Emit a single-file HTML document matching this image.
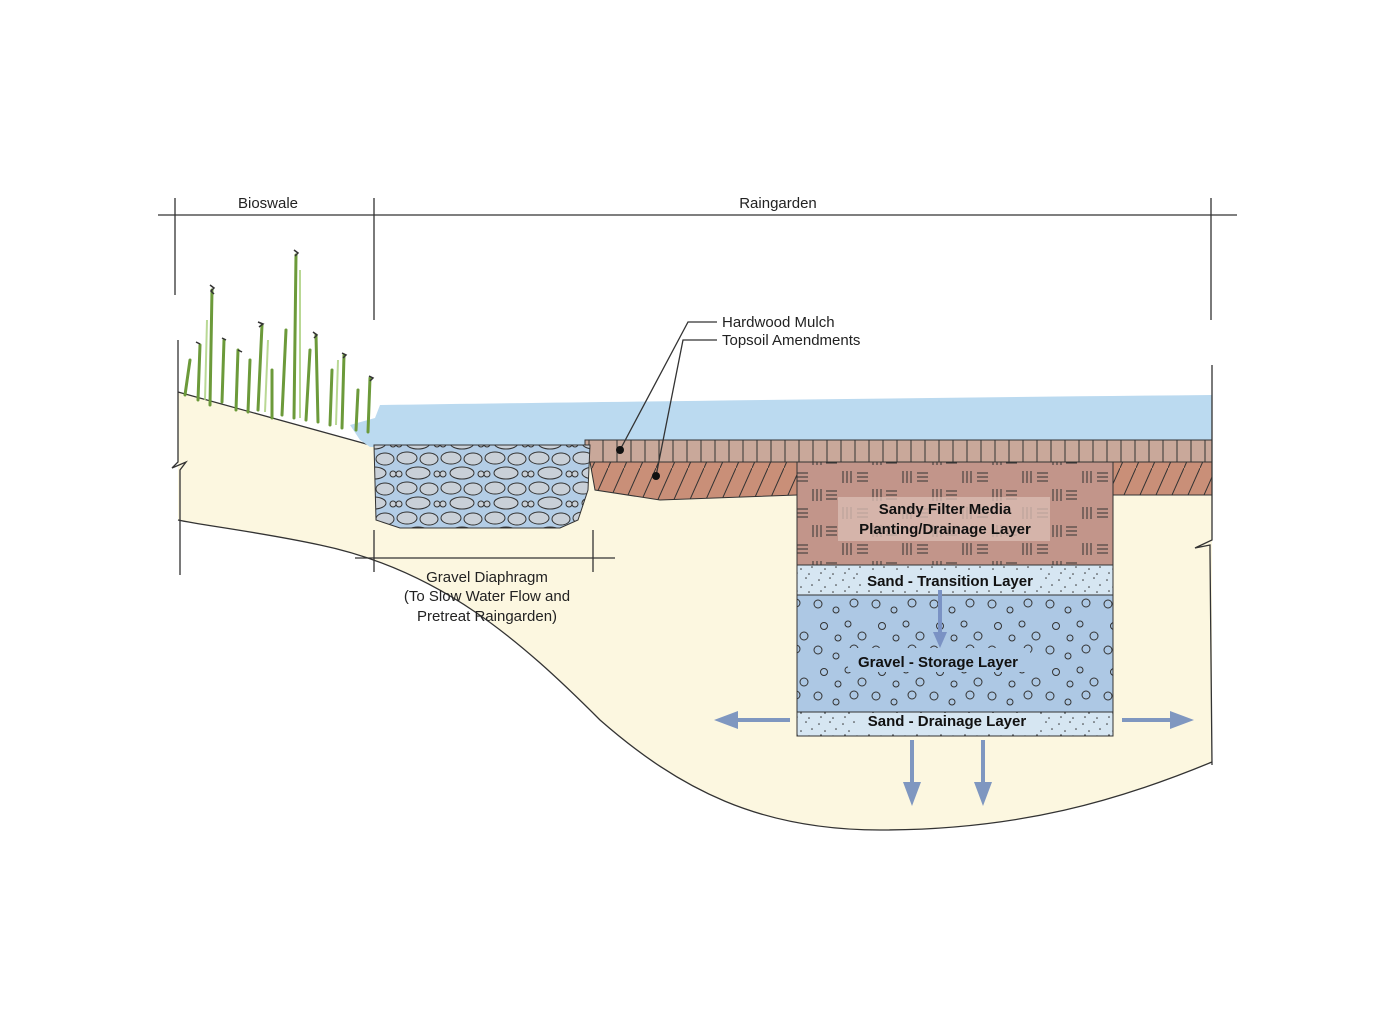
<!DOCTYPE html>
<html><head><meta charset="utf-8"><style>
html,body{margin:0;padding:0;background:#fff;}
svg{display:block;font-family:"Liberation Sans",sans-serif;}
</style></head><body>
<svg width="1399" height="1017" viewBox="0 0 1399 1017" xmlns="http://www.w3.org/2000/svg">
<defs>
<pattern id="mulch" width="14" height="22" patternUnits="userSpaceOnUse"><rect width="14" height="22" fill="#c9a89a"/><line x1="1" y1="0" x2="1" y2="22" stroke="#333" stroke-width="1"/></pattern>
<pattern id="topsoil" width="16" height="36" patternUnits="userSpaceOnUse"><rect width="16" height="36" fill="#c98f78"/><line x1="0" y1="36" x2="16" y2="0" stroke="#333" stroke-width="1"/></pattern>
<pattern id="filter" width="60" height="36" patternUnits="userSpaceOnUse"><rect width="60" height="36" fill="#c2958a"/>
<g stroke="#333" stroke-width="1"><line x1="3" y1="3" x2="3" y2="15"/><line x1="7" y1="3" x2="7" y2="15"/><line x1="11" y1="3" x2="11" y2="15"/>
<line x1="17" y1="5" x2="28" y2="5"/><line x1="17" y1="9" x2="28" y2="9"/><line x1="17" y1="13" x2="28" y2="13"/>
<line x1="33" y1="21" x2="33" y2="33"/><line x1="37" y1="21" x2="37" y2="33"/><line x1="41" y1="21" x2="41" y2="33"/>
<line x1="46" y1="23" x2="57" y2="23"/><line x1="46" y1="27" x2="57" y2="27"/><line x1="46" y1="31" x2="57" y2="31"/></g></pattern>
<pattern id="sand" width="24" height="18" patternUnits="userSpaceOnUse"><rect width="24" height="18" fill="#d6e6f2"/><g fill="#333"><circle cx="3" cy="4" r=".8"/><circle cx="14" cy="2" r=".8"/><circle cx="9" cy="11" r=".8"/><circle cx="20" cy="9" r=".8"/><circle cx="5" cy="15" r=".8"/><circle cx="17" cy="16" r=".8"/></g></pattern>
<pattern id="gravel" width="58" height="46" patternUnits="userSpaceOnUse"><rect width="58" height="46" fill="#adc8e4"/><g fill="none" stroke="#333" stroke-width="1"><circle cx="6" cy="6" r="4"/><circle cx="24" cy="12" r="3"/><circle cx="42" cy="5" r="4"/><circle cx="12" cy="28" r="3.5"/><circle cx="36" cy="26" r="3"/><circle cx="50" cy="38" r="4"/><circle cx="26" cy="40" r="3"/></g></pattern>
<pattern id="diaph" width="44" height="30" patternUnits="userSpaceOnUse"><rect width="44" height="30" fill="#b3cde6"/><g fill="#c9d0d8" stroke="#333" stroke-width="1"><ellipse cx="11" cy="8" rx="10" ry="6"/><ellipse cx="33" cy="9" rx="9" ry="6"/><ellipse cx="22" cy="23" rx="12" ry="6"/><circle cx="3" cy="24" r="3"/><circle cx="41" cy="24" r="3"/></g></pattern>
</defs>

<!-- ground -->
<path d="M178,392 L370,445 L1212,462 L1212,762 C1120,800 1020,830 880,830 C760,830 680,790 600,720 C520,640 440,570 320,545 C260,532 200,525 178,520 Z" fill="#fcf7e0"/>
<path d="M178,520 C200,525 260,532 320,545 C440,570 520,640 600,720 C680,790 760,830 880,830 C1020,830 1120,800 1212,762" fill="none" stroke="#333" stroke-width="1.3"/>
<path d="M178,392 L370,445" fill="none" stroke="#333" stroke-width="1.3"/>

<!-- water -->
<path d="M350,425 L375,418 L380,405 C600,402 900,398 1212,395 L1212,442 L585,448 L370,447 L360,440 Z" fill="#bbdaf0"/>

<!-- mulch & topsoil -->
<rect x="585" y="440" width="627" height="22" fill="url(#mulch)" stroke="#333" stroke-width="1"/>
<path d="M590,462 L1212,462 L1212,495 L1113,495 L797,495 L660,500 L595,490 Z" fill="url(#topsoil)" stroke="#333" stroke-width="1"/>

<!-- gravel diaphragm -->
<path d="M374,445 L590,445 L588,490 L578,520 L560,528 L400,528 L376,520 Z" fill="url(#diaph)" stroke="#333" stroke-width="1"/>

<!-- filter column -->
<rect x="797" y="462" width="316" height="103" fill="url(#filter)" stroke="#333"/>
<rect x="838" y="497" width="212" height="44" fill="#d9bcb2" opacity="0.8"/>
<rect x="797" y="565" width="316" height="30" fill="url(#sand)" stroke="#333"/>
<rect x="862" y="570" width="176" height="20" fill="#d6e6f2"/>
<rect x="797" y="595" width="316" height="117" fill="url(#gravel)" stroke="#333"/>
<rect x="848" y="648" width="182" height="24" fill="#adc8e4"/>
<rect x="797" y="712" width="316" height="24" fill="url(#sand)" stroke="#333"/>
<rect x="855" y="713" width="185" height="20" fill="#d6e6f2"/>
<line x1="940" y1="590" x2="940" y2="635" stroke="#7a92c4" stroke-width="4"/>
<polygon points="933,632 947,632 940,648" fill="#7a92c4"/>

<g font-weight="bold" font-size="15" fill="#111" text-anchor="middle">
<text x="945" y="514">Sandy Filter Media</text>
<text x="945" y="534">Planting/Drainage Layer</text>
<text x="950" y="586">Sand - Transition Layer</text>
<text x="938" y="667">Gravel - Storage Layer</text>
<text x="947" y="726">Sand - Drainage Layer</text>
</g>

<!-- outflow arrows -->
<g fill="#7f97c0" stroke="#7f97c0">
<line x1="790" y1="720" x2="735" y2="720" stroke-width="4"/><polygon points="714,720 738,711 738,729" stroke="none"/>
<line x1="1122" y1="720" x2="1175" y2="720" stroke-width="4"/><polygon points="1194,720 1170,711 1170,729" stroke="none"/>
<line x1="912" y1="740" x2="912" y2="785" stroke-width="4"/><polygon points="912,806 903,782 921,782" stroke="none"/>
<line x1="983" y1="740" x2="983" y2="785" stroke-width="4"/><polygon points="983,806 974,782 992,782" stroke="none"/>
</g>

<!-- edges -->
<g stroke="#333" stroke-width="1.3" fill="none">
<path d="M178,340 L178,462 L172,468 L186,462 L180,470 L180,575"/>
<path d="M1212,365 L1212,540 L1195,548 L1210,545 L1210,552 L1212,765"/>
<line x1="158" y1="215" x2="1237" y2="215"/>
<line x1="175" y1="198" x2="175" y2="295"/>
<line x1="374" y1="198" x2="374" y2="320"/>
<line x1="1211" y1="198" x2="1211" y2="320"/>
<line x1="355" y1="558" x2="615" y2="558"/>
<line x1="374" y1="530" x2="374" y2="572"/>
<line x1="593" y1="530" x2="593" y2="572"/>
<polyline points="717,322 688,322 620,450"/>
<polyline points="717,340 683,340 656,476"/>
</g>
<circle cx="620" cy="450" r="4" fill="#111"/>
<circle cx="656" cy="476" r="4" fill="#111"/>

<!-- grass -->
<g stroke="#6c9a3a" stroke-width="3" fill="none" stroke-linecap="round">
<path d="M185,395 L190,360"/><path d="M198,400 L200,345"/><path d="M210,405 L212,290"/><path d="M222,402 L224,340"/>
<path d="M236,410 L238,350"/><path d="M248,412 L250,360"/><path d="M258,410 L262,325"/><path d="M272,418 L272,370"/>
<path d="M282,415 L286,330"/><path d="M294,418 L296,255"/><path d="M306,420 L310,350"/><path d="M318,422 L316,335"/>
<path d="M330,425 L332,370"/><path d="M342,428 L344,355"/><path d="M356,430 L358,390"/><path d="M368,432 L370,378"/>
</g>
<g stroke="#a8cf7a" stroke-width="2" fill="none" opacity="0.8">
<path d="M205,400 L207,320"/><path d="M265,412 L268,340"/><path d="M300,418 L300,270"/><path d="M336,425 L338,360"/>
</g>
<g stroke="#333" stroke-width="1.5" fill="none">
<path d="M210,285 l4,3 l-3,3 l3,3"/><path d="M294,250 l4,3 l-3,3"/><path d="M258,322 l5,2 l-4,3"/><path d="M313,332 l4,3 l-3,3"/>
<path d="M342,353 l4,2 l-3,3"/><path d="M369,376 l4,2 l-3,3"/><path d="M222,338 l4,2"/><path d="M238,350 l4,2"/><path d="M196,342 l4,2"/>
</g>

<!-- labels -->
<g font-size="15" fill="#222">
<text x="268" y="208" text-anchor="middle">Bioswale</text>
<text x="778" y="208" text-anchor="middle">Raingarden</text>
<text x="722" y="327">Hardwood Mulch</text>
<text x="722" y="345">Topsoil Amendments</text>
<g text-anchor="middle"><text x="487" y="582">Gravel Diaphragm</text>
<text x="487" y="601">(To  Slow Water Flow and</text>
<text x="487" y="621">Pretreat Raingarden)</text></g>
</g>
</svg>
</body></html>
